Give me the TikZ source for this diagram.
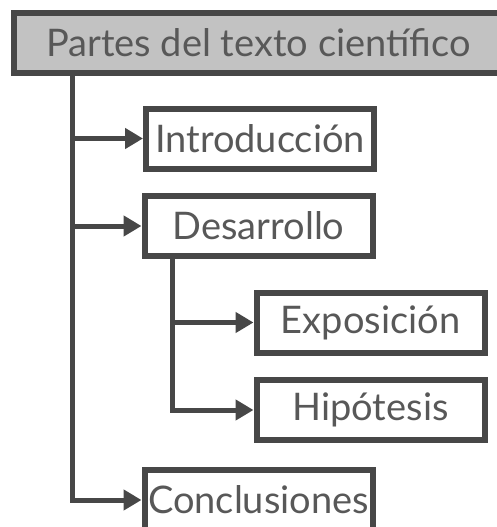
\documentclass[tikz,border=0pt]{standalone}
\usepackage{fontspec}
\setmainfont{Lato}
\usetikzlibrary{arrows.meta}
\definecolor{linegray}{HTML}{474747}
\definecolor{boxgray}{HTML}{C2C2C2}
\definecolor{textgray}{HTML}{585858}
\begin{document}
\begin{tikzpicture}[x=1pt,y=-1pt,
		part/.style={draw=linegray, line width=6pt, fill=white, text=textgray,
			minimum width=228pt, minimum height=60pt, inner sep=0pt,
			font=\fontsize{38}{44}\selectfont},
		link/.style={draw=linegray, line width=5pt, -{Triangle[length=18pt,width=20pt]}}]
		\useasboundingbox (0,0) rectangle (497,527);
		\clip (0,0) rectangle (497,527);
		\node[part, fill=boxgray, minimum width=490pt, minimum height=60pt] (title) at (258.5,43) {Partes del texto científico};
		\node[part] (intro) at (260,138.5) {Introducción};
		\node[part] (desarrollo) at (258.5,226) {Desarrollo};
		\node[part] (exposicion) at (370.5,322.5) {Exposición};
		\node[part] (hipotesis) at (370.5,410) {Hipótesis};
		\node[part] (conclusiones) at (258.5,500) {Conclusiones};
		\coordinate (trunk) at (72,76);
		\coordinate (branch) at (172,259);
		\draw[link] (trunk) |- (intro.west);
		\draw[link] (trunk) |- (desarrollo.west);
		\draw[link] (trunk) |- (conclusiones.west);
		\draw[link] (branch) |- (exposicion.west);
		\draw[link] (branch) |- (hipotesis.west);
	\end{tikzpicture}
\end{document}
